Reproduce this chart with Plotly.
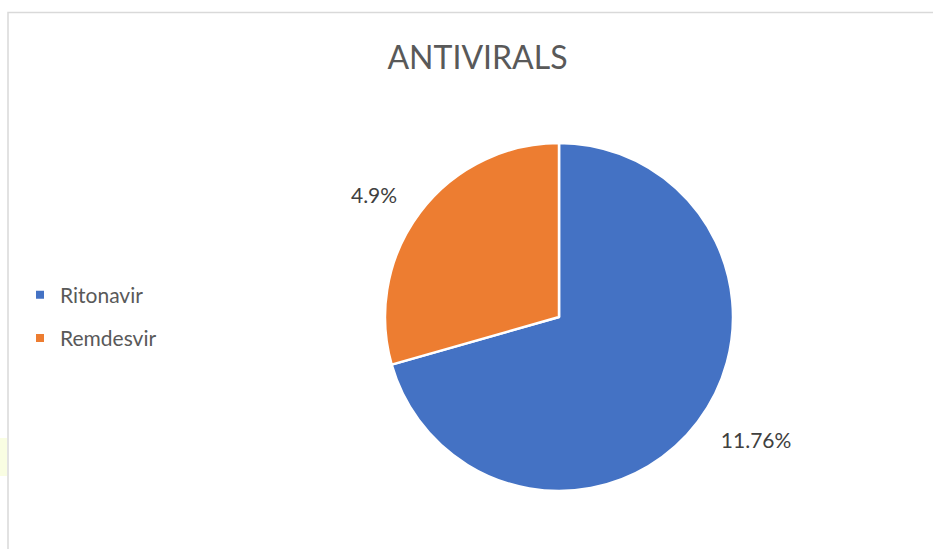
import plotly.graph_objects as go

labels = ["Ritonavir", "Remdesvir"]
values = [11.76, 4.9]
colors = ["#4472C4", "#ED7D31"]
title_text = "ANTIVIRALS"

W, H = 933, 549

def px_x(p):
    return p / W

def px_y(p):
    return 1 - p / H

cx, cy, r = 559, 317, 174
r_lab = 195

fig = go.Figure()

# visible pie
fig.add_trace(go.Pie(
    labels=labels, values=values, sort=False, direction="clockwise", rotation=0,
    marker=dict(colors=colors, line=dict(color="white", width=2.5)),
    textinfo="none", showlegend=False, hoverinfo="skip",
    domain=dict(x=[px_x(cx - r), px_x(cx + r)], y=[px_y(cy + r), px_y(cy - r)]),
))

# transparent pie carrying outside data labels further from the arc
fig.add_trace(go.Pie(
    labels=labels, values=values, sort=False, direction="clockwise", rotation=0,
    marker=dict(colors=["rgba(0,0,0,0)"] * len(labels), line=dict(width=0)),
    texttemplate="%{value}%", textposition="outside",
    outsidetextfont=dict(family="Lato", size=21, color="#404040"),
    showlegend=False, hoverinfo="skip",
    domain=dict(x=[px_x(cx - r_lab), px_x(cx + r_lab)], y=[px_y(cy + r_lab), px_y(cy - r_lab)]),
))

# legend entries
for i, (lab, col) in enumerate(zip(labels, colors)):
    fig.add_trace(go.Scatter(
        x=[None], y=[None], mode="markers", name=lab, legendgroup=lab,
        marker=dict(symbol="square", size=8, color=col),
    ))

fig.update_layout(
    width=W, height=H,
    margin=dict(l=0, r=0, t=0, b=0),
    paper_bgcolor="white", plot_bgcolor="white",
    font=dict(family="Lato", color="#595959"),
    title=dict(text=title_text, x=px_x(477.5), xanchor="center", y=px_y(58), yanchor="middle",
               font=dict(family="Lato", size=32, color="#595959")),
    xaxis=dict(visible=False), yaxis=dict(visible=False),
    legend=dict(x=px_x(20), xanchor="left", y=px_y(274.5), yanchor="top",
                font=dict(family="Lato", size=21, color="#595959"),
                tracegroupgap=13, bgcolor="rgba(0,0,0,0)"),
    hovermode=False,
    shapes=[
        dict(type="rect", xref="paper", yref="paper",
             x0=px_x(8), x1=1.02, y0=-0.02, y1=px_y(12.5),
             line=dict(color="#D9D9D9", width=1.5), fillcolor="rgba(0,0,0,0)", layer="below"),
        dict(type="rect", xref="paper", yref="paper",
             x0=0, x1=px_x(7), y0=px_y(476), y1=px_y(438),
             line=dict(width=0), fillcolor="#F9FDE2", layer="below"),
    ],
)

fig.write_html("out.html")
